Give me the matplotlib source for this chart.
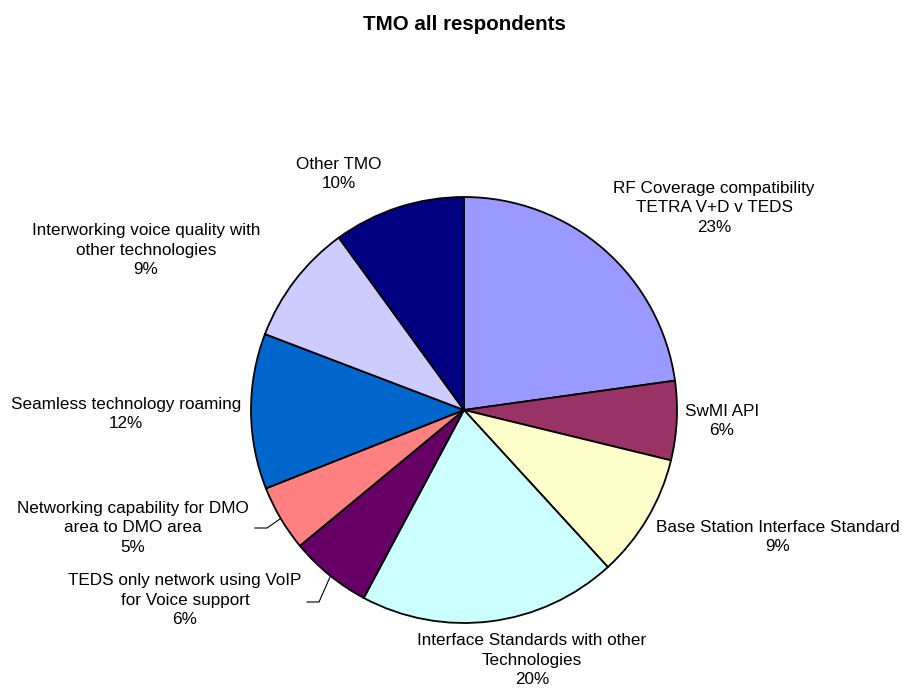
import matplotlib
matplotlib.use('Agg')
import matplotlib.pyplot as plt

plt.rcParams['font.family'] = ['Liberation Sans', 'DejaVu Sans']

# slice data, clockwise from 12 o'clock
categories = [
    'RF Coverage compatibility\nTETRA V+D v TEDS',
    'SwMI API',
    'Base Station Interface Standard',
    'Interface Standards with other\nTechnologies',
    'TEDS only network using VoIP\nfor Voice support',
    'Networking capability for DMO\narea to DMO area',
    'Seamless technology roaming',
    'Interworking voice quality with\nother technologies',
    'Other TMO',
]
shares = [22.8, 6.0, 9.4, 19.6, 6.2, 5.0, 11.8, 9.2, 10.0]
colors = ['#9999FF', '#993366', '#FFFFCC', '#CCFFFF', '#660066',
          '#FF8080', '#0066CC', '#CCCCFF', '#000080']

W, H = 902, 690
fig = plt.figure(figsize=(W / 100, H / 100), dpi=100)
ax = fig.add_axes([0, 0, 1, 1])

cx, cy, r = 464, H - 410, 213
ax.pie(shares, colors=colors, startangle=90, counterclock=False,
       center=(cx, cy), radius=r,
       wedgeprops=dict(edgecolor='black', linewidth=1.3))
ax.set_xlim(0, W)
ax.set_ylim(0, H)
ax.set_aspect('equal')
ax.axis('off')

# label centres in pixels (top-left origin), centre of the text block
label_pos = [(714, 208), (722, 421), (778, 537), (532, 660),
             (185, 600), (133, 528), (126, 414), (146, 250), (339, 174)]
total = sum(shares)
for name, v, (x, y) in zip(categories, shares, label_pos):
    ax.text(x, H - y, f'{name}\n{round(v / total * 100):.0f}%',
            ha='center', va='center', fontsize=12.3, linespacing=1.38)

# leader lines
ax.plot([255, 267, 280], [H - 528, H - 528, H - 519], color='black', lw=0.8)
ax.plot([307, 319, 330], [H - 602, H - 602, H - 577], color='black', lw=0.8)

fig.text(464 / W, 1 - 24 / H, 'TMO all respondents', ha='center', va='center',
         fontsize=14.8, fontweight='bold')

fig.savefig('out.png', dpi=100)
